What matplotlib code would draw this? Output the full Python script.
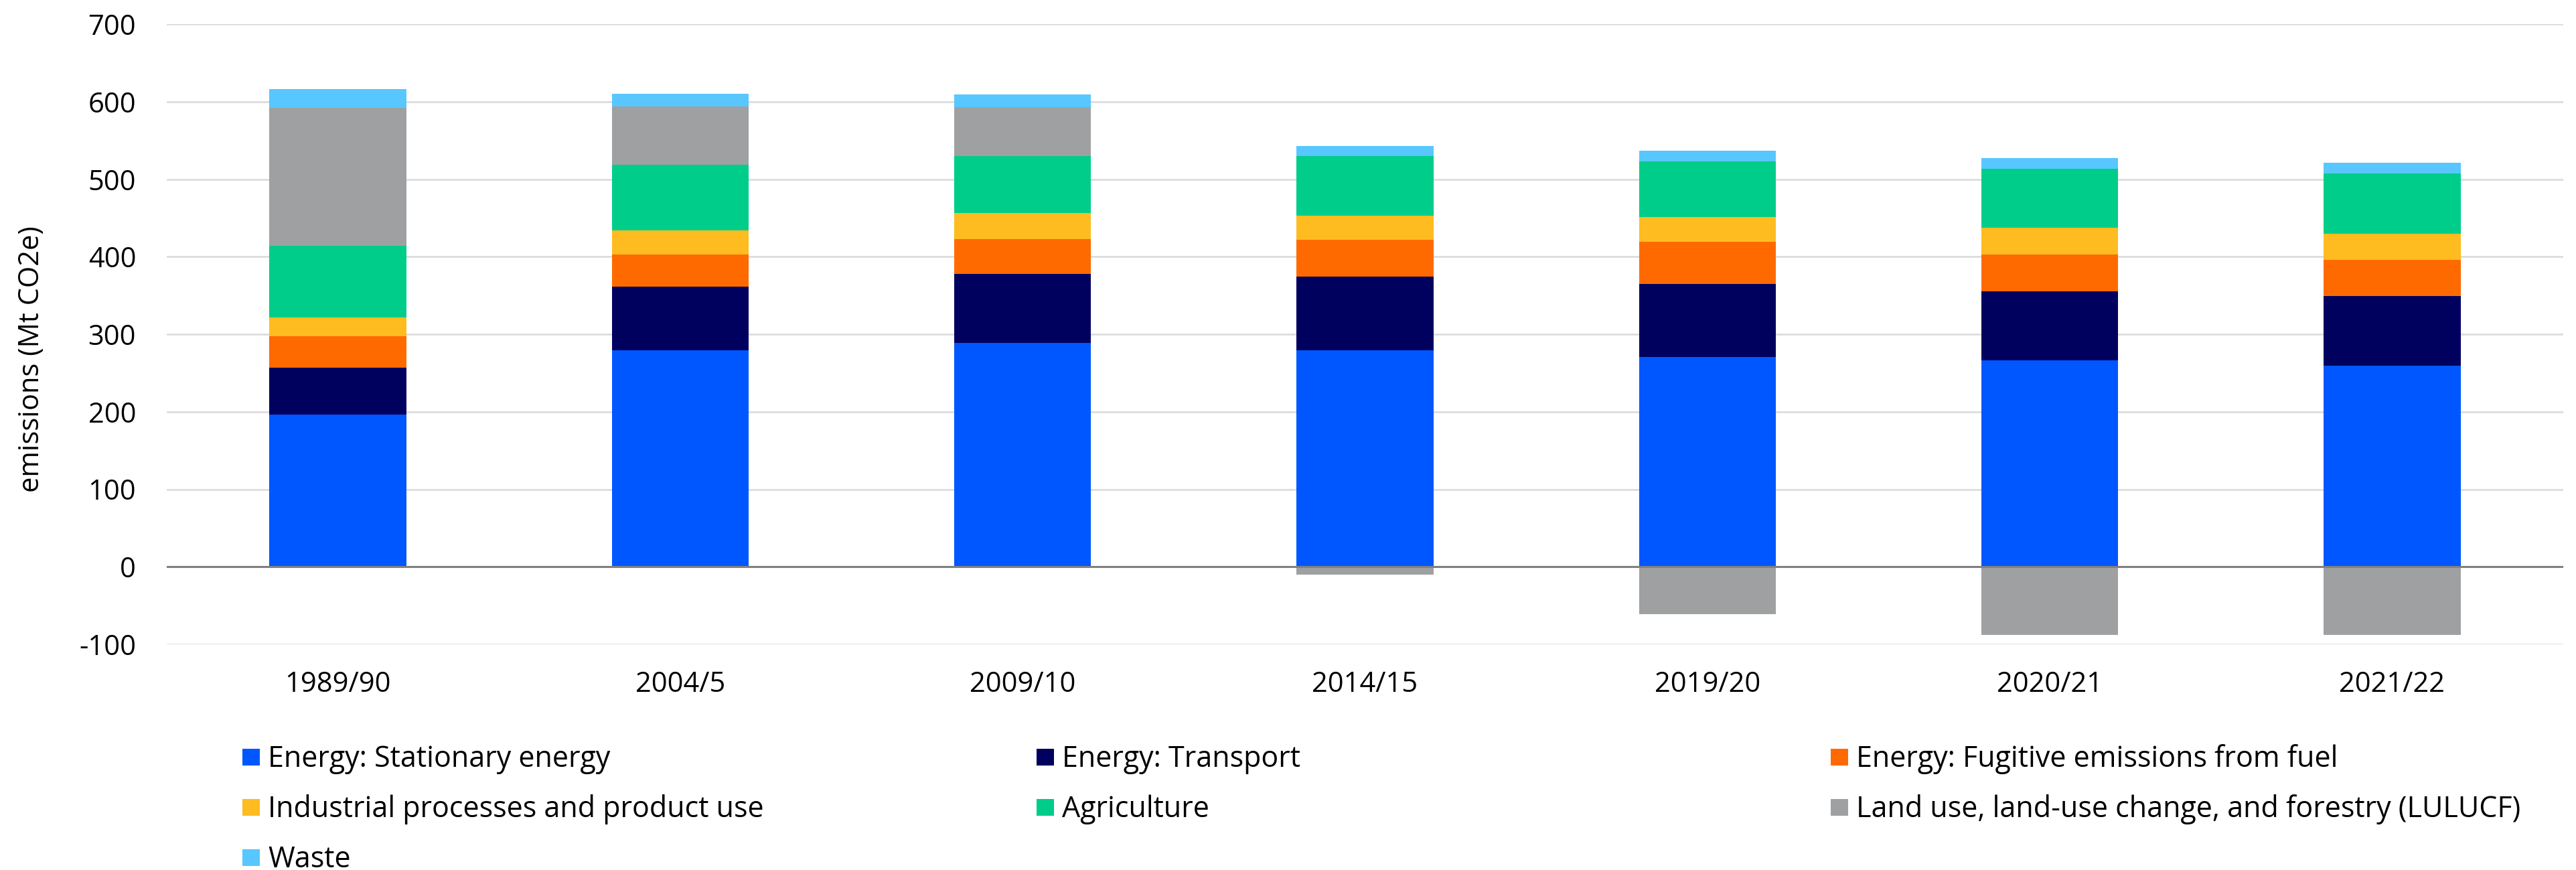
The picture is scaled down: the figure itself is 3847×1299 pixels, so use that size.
import matplotlib
matplotlib.use("Agg")
import matplotlib.pyplot as plt
import numpy as np
from matplotlib.patches import Rectangle

plt.rcParams['font.family'] = ['Open Sans', 'DejaVu Sans']
plt.rcParams['axes.unicode_minus'] = False

# emissions by sector, Mt CO2e
years = ["1989/90", "2004/5", "2009/10", "2014/15", "2019/20", "2020/21", "2021/22"]
stationary = [196, 279, 289, 279, 271, 266, 259]
transport = [61, 82, 89, 95, 94, 89, 90]
fugitive = [40, 42, 45, 48, 54, 48, 47]
industrial = [25, 31, 33, 31, 32, 34, 34]
agriculture = [92, 85, 74, 77, 72, 76, 77]
lulucf = [178, 75, 63, -10, -61, -88, -88]
waste = [24, 16, 16, 13, 14, 14, 14]

labels = ["Energy: Stationary energy", "Energy: Transport",
          "Energy: Fugitive emissions from fuel",
          "Industrial processes and product use", "Agriculture",
          "Land use, land-use change, and forestry (LULUCF)", "Waste"]
colors = ["#0057ff", "#00005e", "#ff6a00", "#febc20", "#00cd89", "#9fa0a2", "#58c7ff"]
series = [stationary, transport, fugitive, industrial, agriculture, lulucf, waste]

W, H = 3847, 1299
fig = plt.figure(figsize=(W / 100, H / 100), dpi=100)
# axes box in pixels: x 249..3828, y 36..962 (from top)
ax = fig.add_axes([249 / W, 1 - 962 / H, (3828 - 249) / W, (962 - 36) / H])

x = np.arange(len(years))
pos = np.zeros(len(years))
neg = np.zeros(len(years))
for vals, c in zip(series, colors):
    v = np.array(vals, dtype=float)
    bottom = np.where(v >= 0, pos, neg)
    ax.bar(x, v, width=0.4, bottom=bottom, color=c, linewidth=0, zorder=2)
    pos = pos + np.where(v >= 0, v, 0)
    neg = neg + np.where(v < 0, v, 0)

ax.set_xlim(-0.5, len(years) - 0.5)
ax.set_ylim(-100, 700)
ax.set_yticks(np.arange(-100, 701, 100))
ax.set_xticks(x)
ax.set_xticklabels(years)
ax.yaxis.grid(True, color="#d9d9d9", linewidth=1.8, zorder=0)
ax.set_axisbelow(True)
ax.axhline(0, color="#808080", linewidth=2.2, zorder=3)
for s in ax.spines.values():
    s.set_visible(False)
ax.tick_params(axis="both", length=0, labelsize=30)
ax.tick_params(axis="y", pad=33)
ax.tick_params(axis="x", pad=28)

ax.set_ylabel("emissions (Mt CO2e)", fontsize=30)
ax.yaxis.set_label_coords(-0.0506, 0.46)

# legend laid out as a 3-column grid below the plot
col_x = [362, 1548, 2734]
row_y = [1130, 1205, 1280]
for i, (lab, c) in enumerate(zip(labels, colors)):
    cx = col_x[i % 3]
    cy = row_y[i // 3]
    fig.patches.append(Rectangle((cx / W, 1 - (cy + 12.5) / H), 26 / W, 25 / H,
                                 transform=fig.transFigure, color=c, linewidth=0))
    fig.text((cx + 38) / W, 1 - (cy + 15) / H, lab, fontsize=31, va="baseline", ha="left")

fig.savefig("out.png", dpi=100)
